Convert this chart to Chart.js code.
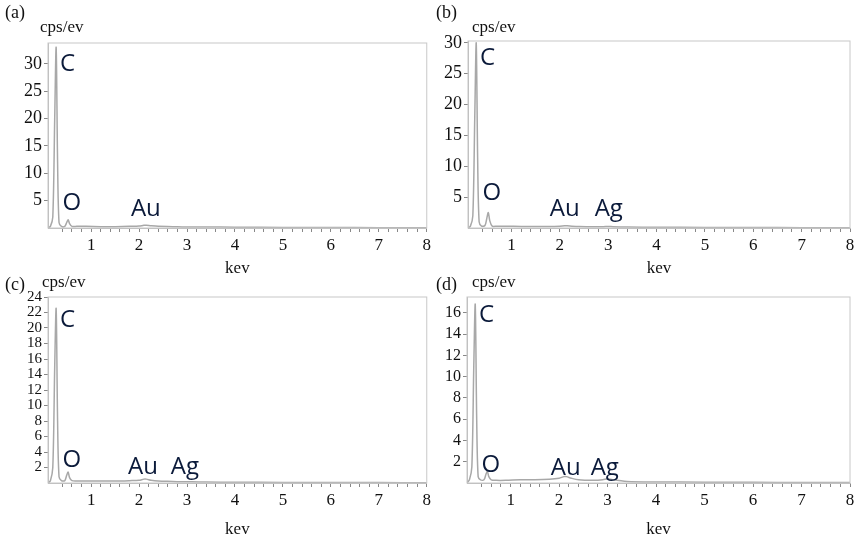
<!DOCTYPE html>
<html>
<head>
<meta charset="utf-8">
<script src="https://cdn.jsdelivr.net/npm/chart.js@4.4.0/dist/chart.umd.min.js"></script>
<style>
  body { margin: 0; background: #fff; }
  .panel { position: absolute; }
</style>
</head>
<body>
<div class="panel" style="left:0;top:0;width:434px;height:276px"><canvas id="ca"></canvas></div>
<div class="panel" style="left:434px;top:0;width:433px;height:276px"><canvas id="cb"></canvas></div>
<div class="panel" style="left:0;top:276px;width:434px;height:270px"><canvas id="cc"></canvas></div>
<div class="panel" style="left:434px;top:276px;width:433px;height:270px"><canvas id="cd"></canvas></div>
<script>
// energy grid (keV) shared by all spectra
const energy = [0.1, 0.15, 0.2, 0.24, 0.27, 0.3, 0.33, 0.38, 0.45, 0.49, 0.52, 0.55, 0.6, 0.7, 0.9, 1.2, 1.5, 1.8, 2.0, 2.1, 2.15, 2.25, 2.4, 2.7, 2.9, 3.0, 3.1, 3.4, 4, 5, 6, 7, 8];

// counts (cps/eV) per sample
const countsA = [0, 0.3, 2, 20, 33, 12, 1, 0.3, 0.3, 1.0, 1.5, 0.8, 0.3, 0.3, 0.3, 0.25, 0.25, 0.3, 0.35, 0.5, 0.5, 0.4, 0.3, 0.25, 0.2, 0.2, 0.2, 0.2, 0.15, 0.1, 0.08, 0.06, 0.05];
const countsB = [0, 0.3, 2, 18, 30, 11, 1, 0.3, 0.4, 1.6, 2.5, 1.2, 0.3, 0.3, 0.3, 0.25, 0.25, 0.25, 0.3, 0.35, 0.35, 0.3, 0.25, 0.2, 0.2, 0.25, 0.2, 0.15, 0.12, 0.1, 0.08, 0.06, 0.05];
const countsC = [0, 0.3, 2, 15, 22.5, 8, 0.8, 0.3, 0.3, 1.0, 1.4, 0.7, 0.3, 0.25, 0.25, 0.25, 0.25, 0.3, 0.35, 0.5, 0.5, 0.35, 0.25, 0.2, 0.15, 0.15, 0.15, 0.12, 0.1, 0.08, 0.06, 0.05, 0.04];
const countsD = [0, 0.3, 1.5, 11, 16.8, 6, 0.6, 0.3, 0.3, 0.8, 1.1, 0.6, 0.3, 0.25, 0.25, 0.3, 0.3, 0.35, 0.45, 0.6, 0.6, 0.45, 0.3, 0.25, 0.3, 0.4, 0.3, 0.15, 0.1, 0.08, 0.06, 0.05, 0.04];

// element labels: [text, keV, cps]
const labelsA = [['C', 0.35, 30], ['O', 0.4, 4.5], ['Au', 1.83, 3.5]];
const labelsB = [['C', 0.35, 27.5], ['O', 0.4, 5.6], ['Au', 1.79, 3], ['Ag', 2.72, 3]];
const labelsC = [['C', 0.35, 21], ['O', 0.4, 2.9], ['Au', 1.77, 2], ['Ag', 2.66, 2]];
const labelsD = [['C', 0.35, 15.8], ['O', 0.4, 1.7], ['Au', 1.83, 1.4], ['Ag', 2.65, 1.4]];

const serif = '"Liberation Serif", "Times New Roman", serif';

function makePanel(id, counts, labels, letter, yMax, yStep, yFont, pad, yWidth, xHeight, pos) {
    const annot = {
        id: 'annot',
        afterDraw(chart) {
            const ctx = chart.ctx;
            const xs = chart.scales.x, ys = chart.scales.y;
            ctx.save();
            ctx.fillStyle = '#0b1a3a';
            ctx.font = '24px "Open Sans", sans-serif';
            ctx.textBaseline = 'middle';
            ctx.textAlign = 'left';
            labels.forEach(([t, e, v]) => ctx.fillText(t, xs.getPixelForValue(e), ys.getPixelForValue(v)));
            ctx.fillStyle = '#111';
            ctx.font = '18px ' + serif;
            ctx.textBaseline = 'alphabetic';
            ctx.fillText(letter, pos.lx, pos.ly);
            ctx.font = '17px ' + serif;
            ctx.fillText('cps/ev', pos.cx, pos.cy);
            ctx.textAlign = 'center';
            ctx.fillText('kev', (chart.chartArea.left + chart.chartArea.right) / 2, pos.ky);
            ctx.restore();
        }
    };
    new Chart(document.getElementById(id), {
        type: 'line',
        data: {
            datasets: [{
                data: energy.map((e, i) => ({ x: e, y: counts[i] })),
                borderColor: '#a8a8a8',
                borderWidth: 1.5,
                pointRadius: 0,
                tension: 0.3,
                fill: false
            }]
        },
        options: {
            responsive: true,
            maintainAspectRatio: false,
            animation: false,
            layout: { padding: pad },
            plugins: { legend: { display: false }, tooltip: { enabled: false } },
            scales: {
                x: {
                    type: 'linear',
                    min: 0.1,
                    max: 8,
                    afterBuildTicks: s => {
                        const t = [];
                        for (let v = 2; v <= 40; v++) t.push({ value: v / 5 });
                        s.ticks = t;
                    },
                    afterFit: s => { s.height = xHeight; },
                    border: { color: '#bbb' },
                    grid: { drawOnChartArea: false, tickLength: 4, color: '#888' },
                    ticks: {
                        autoSkip: false,
                        maxRotation: 0,
                        color: '#111',
                        font: { family: serif, size: 17 },
                        callback: v => Math.abs(v - Math.round(v)) < 1e-6 ? String(Math.round(v)) : ''
                    }
                },
                y: {
                    min: 0,
                    max: yMax,
                    afterBuildTicks: s => {
                        const t = [];
                        for (let v = yStep; v <= yMax + 1e-6; v += yStep) t.push({ value: v });
                        s.ticks = t;
                    },
                    afterFit: s => { s.width = yWidth; },
                    border: { color: '#bbb' },
                    grid: { drawOnChartArea: false, tickLength: 4, color: '#888' },
                    ticks: { autoSkip: false, color: '#111', padding: 2, font: { family: serif, size: yFont, lineHeight: 1 } }
                }
            }
        },
        plugins: [annot, {
            id: 'frame',
            afterDraw(chart) {
                const a = chart.chartArea, ctx = chart.ctx;
                ctx.save();
                ctx.strokeStyle = '#c8c8c8';
                ctx.lineWidth = 1;
                ctx.strokeRect(a.left, a.top, a.right - a.left, a.bottom - a.top);
                ctx.restore();
            }
        }]
    });
}

makePanel('ca', countsA, labelsA, '(a)', 33.8, 5, 18, { top: 43, right: 4, left: 0, bottom: 0 }, 48, 48,
    { lx: 5, ly: 18, cx: 40, cy: 32, ky: 273 });
makePanel('cb', countsB, labelsB, '(b)', 30.3, 5, 18, { top: 41, right: 17, left: 0, bottom: 0 }, 34, 48,
    { lx: 2, ly: 18, cx: 38, cy: 32, ky: 273 });
makePanel('cc', countsC, labelsC, '(c)', 24, 2, 15, { top: 21, right: 4, left: 0, bottom: 0 }, 48, 63,
    { lx: 5, ly: 14, cx: 42, cy: 11, ky: 258 });
makePanel('cd', countsD, labelsD, '(d)', 17.5, 2, 16, { top: 21, right: 17, left: 0, bottom: 0 }, 33, 63,
    { lx: 2, ly: 14, cx: 38, cy: 11, ky: 258 });
</script>
</body>
</html>
